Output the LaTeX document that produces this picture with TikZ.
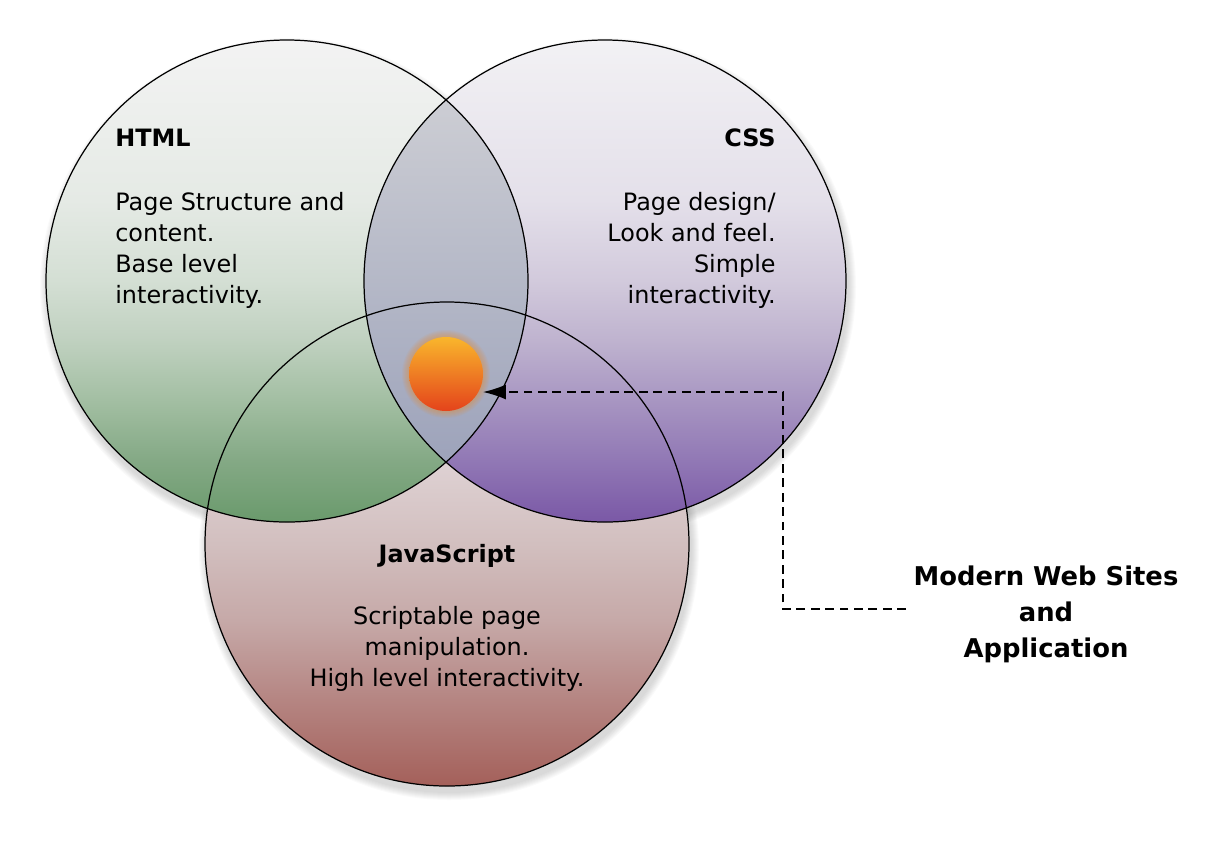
\documentclass[tikz,border=0pt]{standalone}
\usepackage{fontspec}
\setmainfont{DejaVu Sans}
\usetikzlibrary{arrows.meta,calc}
% HTML greens (bottom -> top)
\definecolor{hB}{HTML}{6A9A6C}
\definecolor{hA}{HTML}{84A985}
\definecolor{hC}{HTML}{A3BFA3}
\definecolor{hD}{HTML}{C0D1C0}
\definecolor{hE}{HTML}{D4DFD4}
\definecolor{hF}{HTML}{E5EAE5}
\definecolor{hT}{HTML}{F3F3F3}
% CSS purples
\definecolor{cB}{HTML}{7A58A6}
\definecolor{cA}{HTML}{9178B5}
\definecolor{cC}{HTML}{A896C2}
\definecolor{cD}{HTML}{BFB3CF}
\definecolor{cE}{HTML}{D2CADC}
\definecolor{cF}{HTML}{E4E0EA}
\definecolor{cT}{HTML}{F2F1F4}
% JS reds
\definecolor{jB}{HTML}{A4605A}
\definecolor{jA}{HTML}{B58582}
\definecolor{jC}{HTML}{C6A9A8}
\definecolor{jD}{HTML}{D2BFBF}
\definecolor{jE}{HTML}{E0D4D6}
\definecolor{jT}{HTML}{ECE7E9}
% overlap
\definecolor{oT}{HTML}{CDCED4}
\definecolor{oM}{HTML}{ABAFBF}
\definecolor{oB}{HTML}{9CA2BA}
\definecolor{ballT}{HTML}{F9B62C}
\definecolor{ballB}{HTML}{E4431B}
\pgfdeclareverticalshading{htmlsh}{100bp}{color(0bp)=(hB); color(25bp)=(hB); color(31.4bp)=(hA); color(37.7bp)=(hC); color(43.9bp)=(hD); color(50.1bp)=(hE); color(58.4bp)=(hF); color(75bp)=(hT); color(100bp)=(hT)}
\pgfdeclareverticalshading{csssh}{100bp}{color(0bp)=(cB); color(25bp)=(cB); color(31.4bp)=(cA); color(37.7bp)=(cC); color(43.9bp)=(cD); color(50.1bp)=(cE); color(58.4bp)=(cF); color(75bp)=(cT); color(100bp)=(cT)}
\pgfdeclareverticalshading{jssh}{100bp}{color(0bp)=(jB); color(25bp)=(jB); color(33.9bp)=(jA); color(42.1bp)=(jC); color(50bp)=(jD); color(59.7bp)=(jE); color(75bp)=(jT); color(100bp)=(jT)}
\tikzset{
  ring/.style={draw=black, line width=0.7pt},
  body/.style={font=\fontsize{13.6}{17.6}\selectfont, inner sep=0pt},
  title/.style={font=\fontsize{13.6}{17.6}\selectfont\bfseries, inner sep=0pt},
  big/.style={font=\fontsize{14.7}{20.4}\selectfont\bfseries, inner sep=0pt, anchor=base},
  link/.style={draw=black, line width=0.85pt, dash pattern=on 5pt off 3.2pt},
}
\begin{document}
\begin{tikzpicture}[x=0.02cm,y=-0.02cm]
\useasboundingbox (0,0) rectangle (1208,840);
% shadows
\foreach \k in {1,...,8}{
  \fill[black, opacity=0.018] (289,287) circle ({241+\k});
  \fill[black, opacity=0.018] (607,287) circle ({241+\k});
  \fill[black, opacity=0.02] (449,550) circle ({242+\k});
}
% circles
\shade[shading=jssh] (447,544) circle (242);
\shade[shading=htmlsh] (287,281) circle (241);
\shade[shading=csssh] (605,281) circle (241);
% HTML & CSS overlap
\begin{scope}
  \clip (287,281) circle (241);
  \clip (605,281) circle (241);
  \shade[top color=oT, middle color=oM, bottom color=oB] (350,95) rectangle (545,470);
\end{scope}
% glow round ball
\foreach \k in {1,...,7}{
  \fill[orange, opacity=0.05] (446,374) circle ({37+\k});
}
% outlines
\draw[ring] (447,544) circle (242);
\draw[ring] (287,281) circle (241);
\draw[ring] (605,281) circle (241);
% ball
\node[circle, minimum size=1.48cm, inner sep=0pt, top color=ballT, bottom color=ballB] (ball) at (446,374) {};
% texts HTML
\node[title, anchor=base west] (htmlT) at (115,146) {HTML};
\node[body, anchor=base west] (html1) at (115,210) {Page Structure and};
\node[body, anchor=base west] (html2) at (115,241) {content.};
\node[body, anchor=base west] (html3) at (115,272) {Base level};
\node[body, anchor=base west] (html4) at (115,303) {interactivity.};
% texts CSS
\node[title, anchor=base east] (cssT) at (776,146) {CSS};
\node[body, anchor=base east] (css1) at (776,210) {Page design/};
\node[body, anchor=base east] (css2) at (776,241) {Look and feel.};
\node[body, anchor=base east] (css3) at (776,272) {Simple};
\node[body, anchor=base east] (css4) at (776,303) {interactivity.};
% texts JS
\node[title, anchor=base] (jsT) at (447,562) {JavaScript};
\node[body, anchor=base] (js1) at (447,624) {Scriptable page};
\node[body, anchor=base] (js2) at (447,655) {manipulation.};
\node[body, anchor=base] (js3) at (447,686) {High level interactivity.};
% label
\node[big] (mw1) at (1046,585) {Modern Web Sites};
\node[big] (mw2) at (1046,621) {and};
\node[big] (mw3) at (1046,657) {Application};
% connector
\coordinate (dstart) at (906,609);
\coordinate (bend) at (783,392);
\coordinate (tip) at ($(ball.center)+(37,18)$);
\draw[link, -{Latex[length=13pt, width=8.5pt]}] (dstart) -| (bend) -- (tip);
\end{tikzpicture}
\end{document}
